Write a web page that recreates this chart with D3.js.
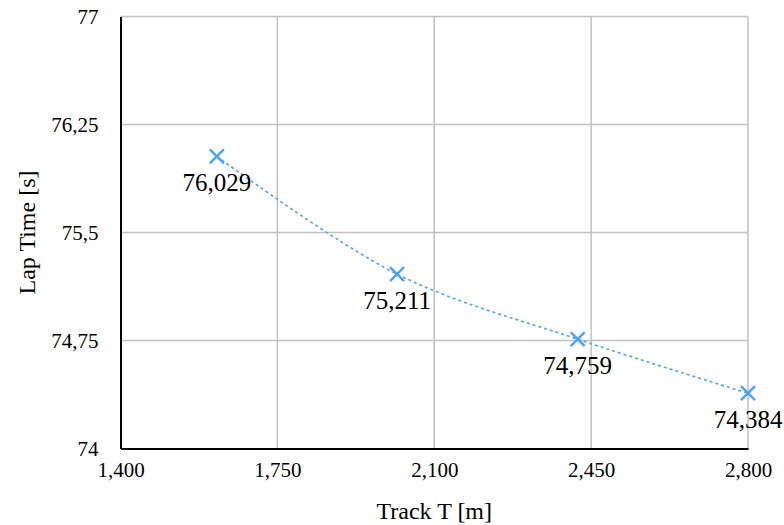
<!DOCTYPE html>
<html>
<head>
<meta charset="utf-8">
<script src="https://cdn.jsdelivr.net/npm/d3@7"></script>
<style>
  html, body { margin: 0; padding: 0; background: #fff; }
  svg { display: block; font-family: "Liberation Serif", "Times New Roman", serif; }
</style>
</head>
<body>
<svg id="chart" width="784" height="525"></svg>
<script>
// Track length (m) vs. lap time (s)
const trackLength = [1615, 2017, 2420, 2800];
const lapTime = [76.029, 75.211, 74.759, 74.384];
const xTicks = [1400, 1750, 2100, 2450, 2800];
const yTicks = [74, 74.75, 75.5, 76.25, 77];

const svg = d3.select("#chart");
const margin = { left: 120.5, right: 36, top: 16.5, bottom: 76.5 };
const W = 784, H = 525;
const serif = "'Liberation Serif', 'Times New Roman', serif";

const x = d3.scaleLinear().domain([1400, 2800]).range([margin.left, W - margin.right]);
const y = d3.scaleLinear().domain([74, 77]).range([H - margin.bottom, margin.top]);

const fmtX = d3.format(",");
const fmtY = v => String(v).replace(".", ",");
const fmtLabel = v => d3.format(".3f")(v).replace(".", ",");

// gridlines
svg.append("g")
  .selectAll("line").data(yTicks.slice(1)).join("line")
  .attr("x1", margin.left).attr("x2", W - margin.right)
  .attr("y1", d => y(d)).attr("y2", d => y(d))
  .attr("stroke", "#c0c0c0").attr("stroke-width", 1.5);
svg.append("g")
  .selectAll("line").data(xTicks.slice(1)).join("line")
  .attr("x1", d => x(d)).attr("x2", d => x(d))
  .attr("y1", margin.top).attr("y2", H - margin.bottom)
  .attr("stroke", "#c0c0c0").attr("stroke-width", 1.5);

// axes
const xAxis = svg.append("g")
  .attr("transform", `translate(0,${H - margin.bottom})`)
  .call(d3.axisBottom(x).tickValues(xTicks).tickFormat(fmtX).tickSize(0).tickPadding(14));
const yAxis = svg.append("g")
  .attr("transform", `translate(${margin.left},0)`)
  .call(d3.axisLeft(y).tickValues(yTicks).tickFormat(fmtY).tickSize(0).tickPadding(22));
[xAxis, yAxis].forEach(a => {
  a.attr("font-family", serif);
  a.select(".domain").attr("stroke", "#000").attr("stroke-width", 2);
  a.selectAll("text").attr("font-family", serif)
    .attr("font-size", 21).attr("fill", "#000");
});
xAxis.selectAll("text").attr("dy", "0.71em");

// axis titles
svg.append("text")
  .attr("x", x(2100)).attr("y", 519).attr("font-family", serif)
  .attr("text-anchor", "middle").attr("font-size", 24).text("Track T [m]");
svg.append("text")
  .attr("transform", `translate(35,${(margin.top + H - margin.bottom) / 2}) rotate(-90)`)
  .attr("font-family", serif)
  .attr("text-anchor", "middle").attr("font-size", 24).text("Lap Time [s]");

// smoothed dotted line
const pts = trackLength.map((d, i) => [d, lapTime[i]]);
const line = d3.line().x(d => x(d[0])).y(d => y(d[1])).curve(d3.curveCatmullRom.alpha(0.5));
svg.append("path").attr("d", line(pts))
  .attr("fill", "none").attr("stroke", "#4da3f5")
  .attr("stroke-width", 1.6).attr("stroke-dasharray", "3,3");

// x markers
const m = 7;
const marks = svg.append("g").selectAll("g").data(pts).join("g")
  .attr("transform", d => `translate(${x(d[0])},${y(d[1])})`);
marks.append("path")
  .attr("d", `M${-m},${-m}L${m},${m}M${-m},${m}L${m},${-m}`)
  .attr("stroke", "#4da3f5").attr("stroke-width", 2.4).attr("fill", "none");

// value labels
svg.append("g").selectAll("text").data(pts).join("text")
  .attr("x", d => x(d[0])).attr("y", d => y(d[1]) + 35)
  .attr("font-family", serif)
  .attr("text-anchor", "middle").attr("font-size", 25).attr("fill", "#000")
  .text(d => fmtLabel(d[1]));
</script>
</body>
</html>
